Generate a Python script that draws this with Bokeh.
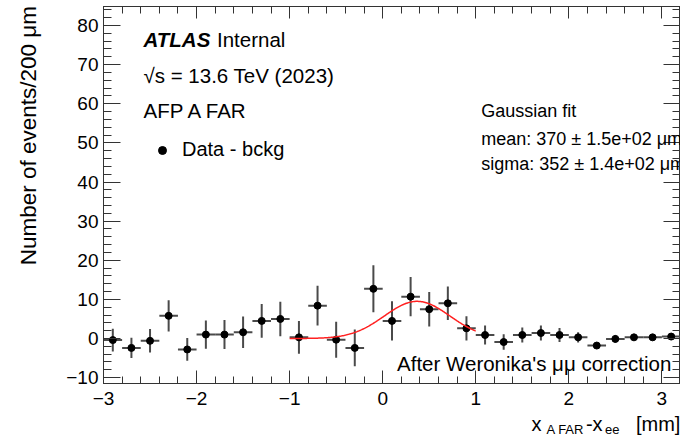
import numpy as np
from bokeh.plotting import figure
from bokeh.models import (FixedTicker, LinearAxis, Label, Legend, LegendItem, Range1d)
from bokeh.embed import file_html
from bokeh.resources import INLINE

# ---------------- data ----------------
bin_centers = [-2.9, -2.7, -2.5, -2.3, -2.1, -1.9, -1.7, -1.5, -1.3, -1.1,
               -0.9, -0.7, -0.5, -0.3, -0.1, 0.1, 0.3, 0.5, 0.7, 0.9,
               1.1, 1.3, 1.5, 1.7, 1.9, 2.1, 2.3, 2.5, 2.7, 2.9, 3.1]
counts = [-0.4, -2.4, -0.6, 5.8, -2.8, 1.0, 1.0, 1.6, 4.5, 5.0,
          0.3, 8.4, -0.3, -2.4, 12.7, 4.5, 10.7, 7.5, 9.0, 2.6,
          0.9, -0.9, 0.9, 1.4, 0.9, 0.3, -1.8, -0.1, 0.3, 0.3, 0.5]
errors = [2.9, 2.6, 3.0, 4.0, 2.9, 3.6, 3.7, 4.0, 4.3, 4.4,
          4.2, 5.1, 4.6, 4.7, 6.0, 5.0, 5.0, 4.4, 4.3, 3.1,
          2.4, 2.0, 1.9, 1.9, 1.8, 1.3, 0.5, 1.0, 0.8, 0.8, 0.8]
bin_half_width = 0.1

# Gaussian fit result (mm)
fit_mean = 0.370
fit_sigma = 0.352
fit_amplitude = 9.5
fit_lo, fit_hi = -1.0, 1.0

x_ticks = [-3, -2, -1, 0, 1, 2, 3]
x_tick_labels = ["\u22123", "\u22122", "\u22121", "0", "1", "2", "3"]
y_ticks = [-10, 0, 10, 20, 30, 40, 50, 60, 70, 80]
y_tick_labels = ["\u221210", "0", "10", "20", "30", "40", "50", "60", "70", "80"]

X_MIN, X_MAX = -3.0, 3.2
Y_MIN, Y_MAX = -11.5, 84.86

FONT = "Liberation Sans"
AX = "#333333"
NB = "\u00a0"

p = figure(width=680, height=442, x_range=Range1d(X_MIN, X_MAX), y_range=Range1d(Y_MIN, Y_MAX),
           output_backend="svg", toolbar_location=None,
           min_border_left=103, min_border_right=0, min_border_top=6, min_border_bottom=59,
           background_fill_color="white", border_fill_color="white",
           outline_line_color=AX, outline_line_width=1)
p.xgrid.visible = False
p.ygrid.visible = False

x_minor = list(np.round(np.arange(-3.0, 3.21, 0.2), 2))
y_minor = list(range(-10, 85, 2))


def style_axis(ax, ticks, minor, labels, tick_in, minor_in, show_labels=True, standoff=5):
    ax.ticker = FixedTicker(ticks=ticks, minor_ticks=minor)
    ax.major_tick_in = tick_in
    ax.major_tick_out = 0
    ax.minor_tick_in = minor_in
    ax.minor_tick_out = 0
    ax.axis_line_color = AX
    ax.major_tick_line_color = AX
    ax.minor_tick_line_color = AX
    ax.major_tick_line_width = 1
    ax.minor_tick_line_width = 1
    if show_labels:
        ax.major_label_overrides = {t: s for t, s in zip(ticks, labels)}
        ax.major_label_text_font = FONT
        ax.major_label_text_font_size = "19px"
        ax.major_label_text_color = "black"
        ax.major_label_standoff = standoff
    else:
        ax.major_label_text_font_size = "0px"
        ax.major_label_text_color = None
        ax.major_label_standoff = 0


def style_title(ax, text, size, standoff):
    ax.axis_label = text
    ax.axis_label_text_font = FONT
    ax.axis_label_text_font_size = size
    ax.axis_label_text_font_style = "normal"
    ax.axis_label_text_color = "black"
    try:
        ax.axis_label_standoff = standoff
    except Exception:
        ax.axis_label_standoff = 0
    ax.axis_label_align = "center"


style_axis(p.xaxis[0], x_ticks, x_minor, x_tick_labels, 13, 7, standoff=8)
style_axis(p.yaxis[0], y_ticks, y_minor, y_tick_labels, 17, 8, standoff=5)

# axis titles (ROOT style: pushed to the top / right end with leading no-break spaces)
style_title(p.yaxis[0], NB * 19 + "Number of events/200 \u03bcm", "22.5px", 22)
style_title(p.xaxis[0], NB * 77 + "x" + NB * 8 + "-x" + NB * 6 + "[mm]", "20px", 5)

# subscripts of the x title, on an extra label-only axis
sub_axis = LinearAxis(ticker=FixedTicker(ticks=[]), axis_line_color=None,
                      major_tick_line_color=None, minor_tick_line_color=None,
                      major_tick_out=0, minor_tick_out=0, major_label_standoff=0,
                      major_label_text_font_size="0px")
style_title(sub_axis, NB * 106 + "A FAR" + NB * 6 + "ee", "13px", -16)
p.add_layout(sub_axis, "below")

top_axis = LinearAxis()
style_axis(top_axis, x_ticks, x_minor, x_tick_labels, 12, 7, show_labels=False)
p.add_layout(top_axis, "above")
right_axis = LinearAxis()
style_axis(right_axis, y_ticks, y_minor, y_tick_labels, 17, 8, show_labels=False)
p.add_layout(right_axis, "right")

# ---------------- data marks ----------------
xc = np.array(bin_centers)
yc = np.array(counts)
ye = np.array(errors)
ERR = "#4a4a4a"
p.segment(x0=xc - bin_half_width, y0=yc, x1=xc + bin_half_width, y1=yc, line_color=ERR, line_width=2)
p.segment(x0=xc, y0=yc - ye, x1=xc, y1=yc + ye, line_color=ERR, line_width=2)
pts = p.scatter(xc, yc, size=7, marker="circle", fill_color="black", line_color="black")

fx = np.linspace(fit_lo, fit_hi, 200)
fy = fit_amplitude * np.exp(-0.5 * ((fx - fit_mean) / fit_sigma) ** 2)
p.line(fx, fy, line_color="#ff2020", line_width=1.5)

# ---------------- legend ----------------
legend = Legend(items=[LegendItem(label="Data - bckg", renderers=[pts])],
                location=(49, 222), border_line_color=None, background_fill_alpha=0,
                padding=0, margin=0, spacing=0, glyph_width=20, glyph_height=20,
                label_height=20, label_standoff=10, label_text_color="black",
                label_text_font=FONT, label_text_font_size="20px")
p.add_layout(legend)


# ---------------- texts inside the frame ----------------
def px2x(px):
    return X_MIN + (px - 103) / 93.06


def py2y(py):
    return (338 - py) / 3.9125


def add_text(px, py, text, size, style="normal"):
    p.add_layout(Label(x=px2x(px), y=py2y(py - 7), text=text, text_font=FONT,
                       text_font_size=size, text_font_style=style, text_color="black",
                       text_align="left", text_baseline="alphabetic"))


add_text(143, 45.7, "ATLAS", "20.5px", style="bold italic")
add_text(216.5, 45.7, "Internal", "20.5px")
add_text(143, 82, "\u221as = 13.6 TeV (2023)", "20.5px")
add_text(143, 117.3, "AFP A FAR", "20.5px")
add_text(480.7, 117.7, "Gaussian fit", "18px")
add_text(480.7, 145, "mean: 370 \u00b1 1.5e+02 \u03bcm", "18px")
add_text(480.7, 170, "sigma: 352 \u00b1 1.4e+02 \u03bcm", "18px")
add_text(396.5, 370, "After Weronika's \u03bc\u03bc correction", "20.5px")

open("out.html", "w").write(file_html(p, INLINE))
